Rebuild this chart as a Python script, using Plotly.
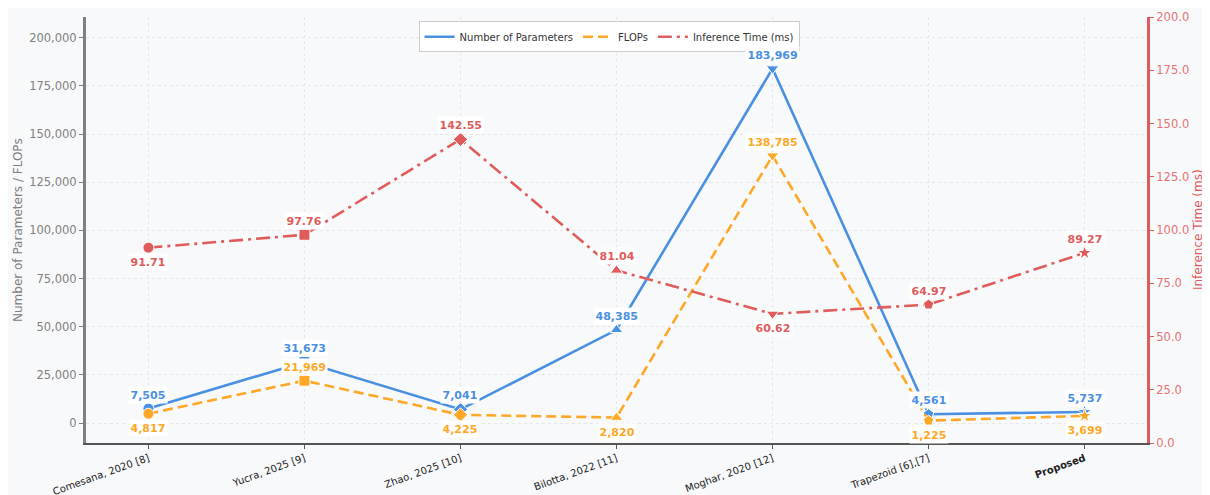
import plotly.graph_objects as go

categories = ["Comesana, 2020 [8]", "Yucra, 2025 [9]", "Zhao, 2025 [10]", "Bilotta, 2022 [11]",
              "Moghar, 2020 [12]", "Trapezoid [6],[7]", "Proposed"]
tick_text = ["Comesana, 2020 [8]", "Yucra, 2025 [9]", "Zhao, 2025 [10]", "Bilotta, 2022 [11]",
             "Moghar, 2020 [12]", "Trapezoid [6],[7]", "<b>Proposed</b>"]
params = [7505, 31673, 7041, 48385, 183969, 4561, 5737]
flops = [4817, 21969, 4225, 2820, 138785, 1225, 3699]
inference_ms = [91.71, 97.76, 142.55, 81.04, 60.62, 64.97, 89.27]
marker_symbols = ["circle", "square", "diamond", "triangle-up", "triangle-down", "pentagon", "star"]

# label placement: +1 above, -1 below
params_pos = [1, 1, 1, 1, 1, 1, 1]
flops_pos = [-1, 1, -1, -1, 1, -1, -1]
inf_pos = [-1, 1, 1, 1, -1, 1, 1]

BLUE = "#4A90E2"
ORANGE = "#FFA726"
RED = "#E05C5C"
FONT = "DejaVu Sans"

x = list(range(len(categories)))

fig = go.Figure()

series = [
    ("Number of Parameters", params, BLUE, "solid", "y", params_pos, lambda v: f"{v:,}"),
    ("FLOPs", flops, ORANGE, "10px,5px", "y", flops_pos, lambda v: f"{v:,}"),
    ("Inference Time (ms)", inference_ms, RED, "14px,5px,3px,5px", "y2", inf_pos, lambda v: f"{v:.2f}"),
]

for name, vals, col, dash, yax, pos, fmt in series:
    fig.add_trace(go.Scatter(
        x=x, y=vals, mode="lines", name=name, yaxis=yax,
        line=dict(color=col, width=2.6, dash=dash), hoverinfo="skip"))
    fig.add_trace(go.Scatter(
        x=x, y=vals, mode="markers", showlegend=False, yaxis=yax,
        marker=dict(symbol=marker_symbols, size=11, color=col,
                    line=dict(color="white", width=1)), hoverinfo="skip"))
    for xi, v, p in zip(x, vals, pos):
        fig.add_annotation(
            x=xi, y=v, xref="x", yref=yax, text=f"<b>{fmt(v)}</b>", showarrow=False,
            yshift=14 * p, font=dict(family=FONT, size=11, color=col),
            bgcolor="white", borderpad=1.5, opacity=1)

# axis titles
fig.add_annotation(xref="paper", yref="paper", x=-0.0641, y=0.5, xanchor="center", yanchor="middle",
                   text="Number of Parameters / FLOPs",
                   textangle=-90, showarrow=False, font=dict(family=FONT, size=12, color="#808080"))
fig.add_annotation(xref="paper", yref="paper", x=1.0481, y=0.5, xanchor="center", yanchor="middle",
                   text="Inference Time (ms)",
                   textangle=-90, showarrow=False, font=dict(family=FONT, size=12, color=RED))

fig.update_layout(
    width=1210, height=495,
    margin=dict(l=78, r=71, t=9, b=60, autoexpand=False),
    paper_bgcolor="#f8f9fa", plot_bgcolor="#f8f9fa",
    font=dict(family=FONT, size=11, color="#333333"),
    showlegend=True,
    legend=dict(orientation="h", x=0.493, xanchor="center", y=0.99, yanchor="top",
                bgcolor="white", bordercolor="#cccccc", borderwidth=1,
                font=dict(family=FONT, size=10, color="#333333"), itemwidth=30),
    xaxis=dict(
        range=[-0.4, 6.4], tickmode="array", tickvals=x, ticktext=tick_text, tickangle=-20,
        showgrid=True, gridcolor="#e6e6e6", griddash="3px,3px", gridwidth=0.8,
        showline=True, linecolor="#555555", linewidth=1.5, ticks="outside", ticklen=4,
        tickcolor="#555555", tickfont=dict(family=FONT, size=10, color="#222222"),
        zeroline=False, automargin=False),
    yaxis=dict(
        range=[-10380, 210750], tickmode="array",
        tickvals=[0, 25000, 50000, 75000, 100000, 125000, 150000, 175000, 200000],
        tickformat=",", showgrid=True, gridcolor="#e6e6e6", griddash="3px,3px", gridwidth=0.8,
        showline=True, linecolor="#808080", linewidth=3, ticks="outside", ticklen=4,
        tickcolor="#808080", tickfont=dict(family=FONT, size=11.5, color="#808080"),
        zeroline=False, automargin=False),
    yaxis2=dict(
        range=[0, 200], overlaying="y", side="right", tickmode="array",
        tickvals=[0, 25, 50, 75, 100, 125, 150, 175, 200], tickformat=".1f",
        showgrid=False, showline=True, linecolor=RED, linewidth=3, ticks="outside",
        ticklen=4, tickcolor=RED, tickfont=dict(family=FONT, size=11.5, color="#E57373"),
        zeroline=False, automargin=False),
)

fig.write_html("out.html")
